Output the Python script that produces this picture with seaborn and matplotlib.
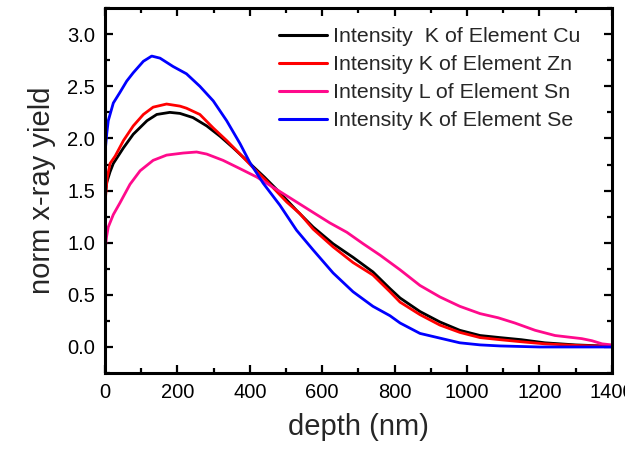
import numpy as np
import pandas as pd
import matplotlib
matplotlib.use("Agg")
import matplotlib.pyplot as plt
from matplotlib.ticker import MultipleLocator
import seaborn as sns

# ---- data ----
labels = ["Intensity  K of Element Cu", "Intensity K of Element Zn",
          "Intensity L of Element Sn", "Intensity K of Element Se"]
colors = ["#000000", "#ff0000", "#ff0a8c", "#0000ff"]

cu_depth = [0, 5, 14, 23, 51, 78, 116, 143, 179, 207, 243, 281, 318, 354, 391, 440,
            483, 529, 575, 630, 685, 740, 787, 815, 870, 925, 980, 1036, 1091, 1150,
            1215, 1300, 1373, 1400]
cu_yield = [1.45, 1.58, 1.68, 1.76, 1.91, 2.04, 2.17, 2.23, 2.25, 2.24, 2.20, 2.12, 2.02,
            1.91, 1.79, 1.63, 1.48, 1.31, 1.15, 0.99, 0.86, 0.72, 0.56, 0.47, 0.34, 0.24,
            0.16, 0.11, 0.09, 0.07, 0.04, 0.02, 0.01, 0.01]

zn_depth = [0, 6, 14, 28, 51, 78, 106, 133, 170, 207, 225, 262, 299, 336, 373, 409, 447,
            502, 538, 575, 630, 685, 740, 787, 815, 870, 925, 980, 1036, 1091, 1150, 1215,
            1300, 1400]
zn_yield = [1.38, 1.62, 1.76, 1.83, 1.98, 2.12, 2.23, 2.30, 2.33, 2.31, 2.29, 2.23, 2.10,
            1.98, 1.85, 1.72, 1.59, 1.39, 1.28, 1.13, 0.96, 0.81, 0.69, 0.53, 0.43, 0.31,
            0.21, 0.14, 0.09, 0.07, 0.05, 0.03, 0.015, 0.005]

sn_depth = [0, 4, 9, 23, 41, 55, 69, 97, 133, 170, 216, 253, 281, 326, 373, 419, 465, 511,
            575, 621, 668, 713, 760, 815, 870, 925, 980, 1036, 1086, 1132, 1188, 1243,
            1317, 1345, 1373, 1400]
sn_yield = [0.92, 1.05, 1.15, 1.27, 1.38, 1.47, 1.56, 1.69, 1.79, 1.84, 1.86, 1.87, 1.85,
            1.79, 1.71, 1.63, 1.53, 1.43, 1.29, 1.19, 1.10, 0.99, 0.88, 0.74, 0.59, 0.48,
            0.39, 0.32, 0.28, 0.23, 0.16, 0.11, 0.08, 0.06, 0.03, 0.02]

se_depth = [0, 5, 9, 23, 41, 60, 78, 106, 129, 152, 188, 225, 262, 299, 336, 373, 400, 437,
            483, 529, 575, 630, 685, 740, 787, 815, 870, 925, 980, 1036, 1091, 1200, 1300,
            1400]
se_yield = [1.86, 2.05, 2.17, 2.34, 2.44, 2.55, 2.63, 2.74, 2.79, 2.77, 2.69, 2.62, 2.50,
            2.36, 2.17, 1.95, 1.77, 1.57, 1.36, 1.12, 0.93, 0.71, 0.53, 0.39, 0.30, 0.23,
            0.13, 0.085, 0.04, 0.02, 0.01, 0.0, 0.0, 0.0]

x_ticks = [0, 200, 400, 600, 800, 1000, 1200, 1400]
y_ticks = [0.0, 0.5, 1.0, 1.5, 2.0, 2.5, 3.0]

frames = []
for lab, d, y in zip(labels, [cu_depth, zn_depth, sn_depth, se_depth],
                     [cu_yield, zn_yield, sn_yield, se_yield]):
    frames.append(pd.DataFrame({"depth": d, "yield": y, "series": lab}))
df = pd.concat(frames, ignore_index=True)

sns.set_style("ticks")
plt.rcParams["font.family"] = ["Liberation Sans", "DejaVu Sans"]

fig = plt.figure(figsize=(6.25, 4.5), dpi=100)
ax = fig.add_axes([0.168, 0.171, 0.811, 0.811])

sns.lineplot(data=df, x="depth", y="yield", hue="series", hue_order=labels,
             palette=dict(zip(labels, colors)), linewidth=2.0, ax=ax,
             estimator=None, sort=False)

ax.set_xlim(0, 1400)
ax.set_ylim(-0.25, 3.25)
ax.set_xticks(x_ticks)
ax.set_yticks(y_ticks)
ax.set_xticklabels([str(t) for t in x_ticks])
ax.set_yticklabels([f"{t:.1f}" for t in y_ticks])
ax.xaxis.set_minor_locator(MultipleLocator(100))
ax.yaxis.set_minor_locator(MultipleLocator(0.25))
ax.tick_params(which="both", direction="in", top=True, right=True, width=1.6,
               labelsize=14.5, colors="black")
ax.tick_params(which="major", length=6, pad=7)
ax.tick_params(which="minor", length=3.5)
for s in ax.spines.values():
    s.set_linewidth(2.2)
    s.set_color("black")

ax.set_xlabel("depth (nm)", fontsize=21, labelpad=8)
ax.set_ylabel("norm x-ray yield", fontsize=21, labelpad=8)

leg = ax.legend(loc="upper right", bbox_to_anchor=(0.955, 0.971), frameon=False,
                fontsize=15.4, handlelength=2.25, handletextpad=0.3, labelspacing=0.42,
                borderaxespad=0.0)
for h in leg.get_lines():
    h.set_linewidth(2.2)

fig.savefig("out.png", dpi=100)
